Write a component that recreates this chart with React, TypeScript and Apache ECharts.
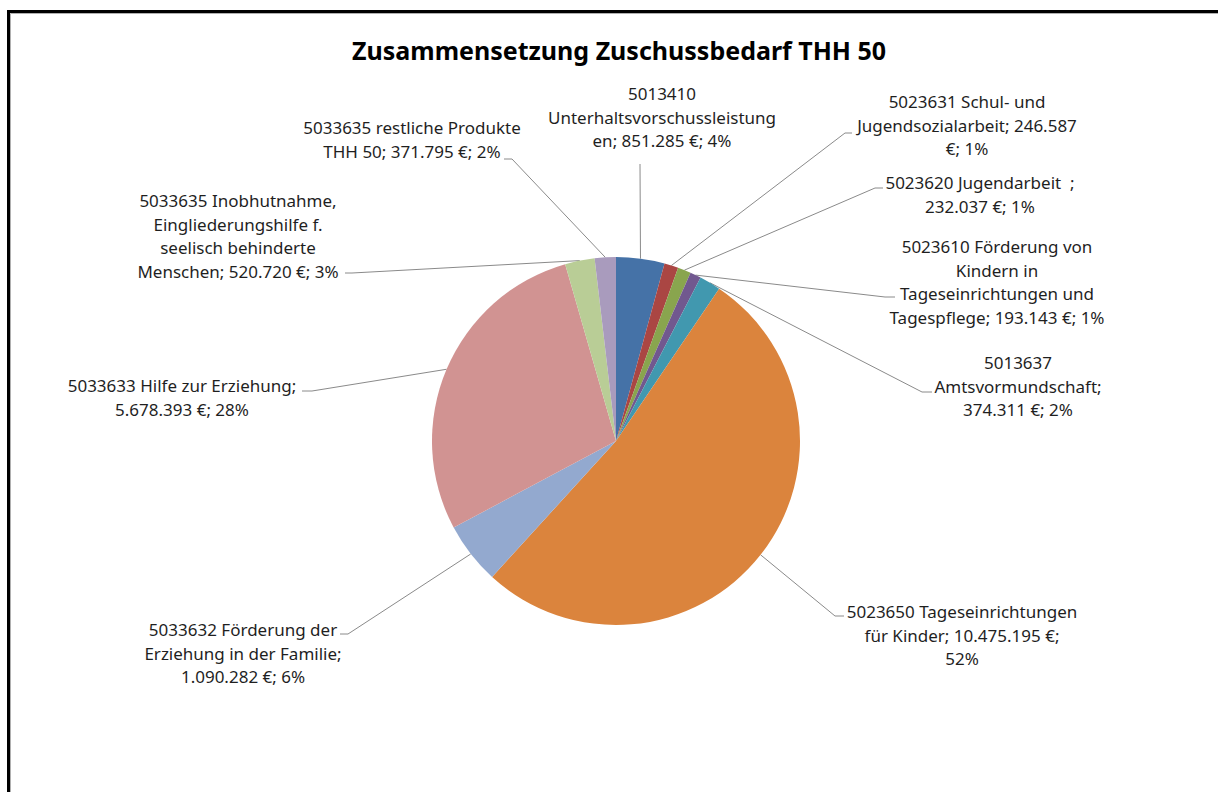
import React, { useEffect, useRef } from "react";
import * as echarts from "echarts";

const titleText = "Zusammensetzung Zuschussbedarf THH 50";

const categories = [
  "5013410 Unterhaltsvorschussleistungen",
  "5023631 Schul- und Jugendsozialarbeit",
  "5023620 Jugendarbeit  ",
  "5023610 Förderung von Kindern in Tageseinrichtungen und Tagespflege",
  "5013637 Amtsvormundschaft",
  "5023650 Tageseinrichtungen für Kinder",
  "5033632 Förderung der Erziehung in der Familie",
  "5033633 Hilfe zur Erziehung",
  "5033635 Inobhutnahme, Eingliederungshilfe f. seelisch behinderte Menschen",
  "5033635 restliche Produkte THH 50",
];

const values = [851285, 246587, 232037, 193143, 374311, 10475195, 1090282, 5678393, 520720, 371795];

const colors = [
  "#4572A7", "#AA4643", "#89A54E", "#71588F", "#4198AF",
  "#DB843D", "#93A9CF", "#D19392", "#B9CD96", "#A99BBD",
];

// characters per wrapped line (last line takes the rest)
const labelWraps = [[7, 27], [18, 27], [23], [21, 10, 22], [7, 18], [26, 25], [21, 25], [28], [21, 22, 19], [26]];

// label block placement: centre x, top y, leader line bend/end points
const labelPlacement = [
  { x: 662, y: 82, line: [[640, 164], [640, 164]] },
  { x: 967, y: 90, line: [[845, 133], [852, 133]] },
  { x: 980, y: 171, line: [[875, 188], [883, 188]] },
  { x: 997, y: 235, line: [[885, 297], [895, 297]] },
  { x: 1018, y: 351, line: [[922, 392], [932, 392]] },
  { x: 962, y: 600, line: [[835, 616], [844, 616]] },
  { x: 243, y: 618, line: [[348, 634], [340, 634]] },
  { x: 182, y: 374, line: [[312, 391], [302, 391]] },
  { x: 238, y: 189, line: [[352, 273], [345, 273]] },
  { x: 412, y: 116, line: [[512, 159], [504, 159]] },
];

function fmtDe(v: number): string {
  return String(v).replace(/\B(?=(\d{3})+(?!\d))/g, ".");
}

function wrap(text: string, widths: number[]): string {
  const out: string[] = [];
  let rest = text;
  for (const w of widths) {
    out.push(rest.slice(0, w));
    rest = rest.slice(w);
    if (rest.startsWith(" ")) rest = rest.slice(1);
  }
  out.push(rest);
  return out.join("\n");
}

export default function App() {
  const ref = useRef<HTMLDivElement>(null);
  useEffect(() => {
    if (!ref.current) return;
    const chart = echarts.init(ref.current, undefined, { renderer: "svg" });
    const font = "'Noto Sans', 'DejaVu Sans', sans-serif";
    chart.setOption({
      animation: false,
      backgroundColor: "#ffffff",
      title: {
        text: titleText,
        left: 347,
        top: 32,
        textStyle: { fontFamily: font, fontSize: 25, fontWeight: "bold", color: "#000" },
      },
      graphic: [
        {
          type: "rect",
          shape: { x: 8.5, y: 11.5, width: 1400, height: 1000 },
          style: { fill: "none", stroke: "#000", lineWidth: 3 },
          silent: true,
        },
        {
          type: "rect",
          shape: { x: 10.5, y: 13.5, width: 1400, height: 1000 },
          style: { fill: "none", stroke: "#b0b0b0", lineWidth: 1 },
          silent: true,
        },
      ],
      series: [
        {
          type: "pie",
          center: [616, 441],
          radius: 184,
          startAngle: 90,
          clockwise: true,
          silent: true,
          avoidLabelOverlap: false,
          percentPrecision: 0,
          itemStyle: { borderWidth: 0 },
          emphasis: { disabled: true },
          label: {
            show: true,
            position: "outside",
            fontFamily: font,
            fontSize: 17,
            lineHeight: 23.5,
            color: "#1f1f1f",
            align: "center",
            formatter: (p: any) =>
              wrap(`${p.name}; ${fmtDe(p.value)} €; ${p.percent}%`, labelWraps[p.dataIndex]),
          },
          labelLine: {
            show: true,
            lineStyle: { color: "#8a8a8a", width: 1 },
          },
          labelLayout: (p: any) => {
            const L = labelPlacement[p.dataIndex];
            const start = p.labelLinePoints && p.labelLinePoints[0] ? p.labelLinePoints[0] : L.line[0];
            return {
              x: L.x,
              y: L.y,
              align: "center",
              verticalAlign: "top",
              labelLinePoints: [start, ...L.line],
            };
          },
          data: categories.map((name, i) => ({
            name,
            value: values[i],
            itemStyle: { color: colors[i] },
          })),
        },
      ],
    });
    return () => chart.dispose();
  }, []);
  return (
    <div
      ref={ref}
      style={{ position: "absolute", left: 0, top: 0, width: 1218, height: 792 }}
    />
  );
}
